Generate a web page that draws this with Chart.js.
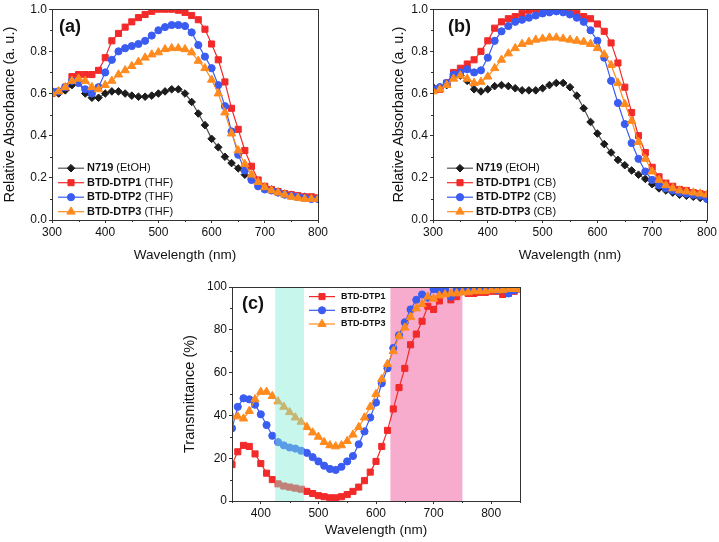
<!DOCTYPE html>
<html lang="en">
<head>
<meta charset="UTF-8">
<title>BTD-DTP absorbance and transmittance</title>
<style>
  body { margin: 0; background: #fff; }
  #wrap { position: relative; width: 719px; height: 542px; }
  canvas { position: absolute; }
</style>
<script src="https://cdn.jsdelivr.net/npm/chart.js"></script>
</head>
<body>
<div id="wrap">
  <canvas id="chartA" width="360" height="270" style="left:0;top:0"></canvas>
  <canvas id="chartB" width="339" height="270" style="left:380px;top:0"></canvas>
  <canvas id="chartC" width="360" height="272" style="left:180px;top:270px"></canvas>
</div>
<script>
// ---- data ----
const wavelengthAB = [300, 312.5, 325, 337.5, 350, 362.5, 375, 387.5, 400, 412.5,
  425, 437.5, 450, 462.5, 475, 487.5, 500, 512.5, 525, 537.5,
  550, 562.5, 575, 587.5, 600, 612.5, 625, 637.5, 650, 662.5,
  675, 687.5, 700, 712.5, 725, 737.5, 750, 762.5, 775, 787.5, 800];

// panel (a)
const n719A = [0.60, 0.60, 0.615, 0.64, 0.655, 0.60, 0.58, 0.58, 0.60, 0.61,
  0.61, 0.60, 0.59, 0.585, 0.585, 0.59, 0.60, 0.61, 0.62, 0.62,
  0.60, 0.56, 0.505, 0.45, 0.385, 0.345, 0.30, 0.27, 0.245, 0.215,
  0.195, 0.175, 0.155, 0.145, 0.135, 0.125, 0.12, 0.115, 0.11, 0.105, 0.10];
const dtp1A = [0.60, 0.61, 0.63, 0.68, 0.69, 0.69, 0.69, 0.71, 0.77, 0.85,
  0.885, 0.915, 0.94, 0.96, 0.975, 0.99, 1.0, 1.0, 1.0, 0.995,
  0.985, 0.97, 0.95, 0.905, 0.835, 0.76, 0.655, 0.53, 0.43, 0.33,
  0.255, 0.19, 0.16, 0.145, 0.135, 0.125, 0.12, 0.115, 0.11, 0.11, 0.105];
const dtp2A = [0.61, 0.61, 0.63, 0.66, 0.65, 0.62, 0.60, 0.63, 0.70, 0.76,
  0.80, 0.815, 0.825, 0.835, 0.85, 0.875, 0.90, 0.915, 0.925, 0.925,
  0.92, 0.89, 0.83, 0.775, 0.72, 0.64, 0.54, 0.42, 0.31, 0.235,
  0.19, 0.16, 0.145, 0.14, 0.13, 0.12, 0.115, 0.11, 0.105, 0.10, 0.10];
const dtp3A = [0.60, 0.61, 0.63, 0.66, 0.67, 0.66, 0.63, 0.62, 0.64, 0.66,
  0.69, 0.71, 0.73, 0.75, 0.77, 0.785, 0.795, 0.81, 0.815, 0.815,
  0.81, 0.795, 0.755, 0.72, 0.665, 0.60, 0.51, 0.41, 0.33, 0.265,
  0.215, 0.18, 0.155, 0.14, 0.13, 0.12, 0.11, 0.105, 0.10, 0.10, 0.10];

// panel (b)
const n719B = [0.63, 0.63, 0.64, 0.68, 0.685, 0.66, 0.62, 0.61, 0.62, 0.635,
  0.64, 0.635, 0.625, 0.615, 0.615, 0.615, 0.625, 0.64, 0.65, 0.65,
  0.63, 0.59, 0.53, 0.465, 0.41, 0.36, 0.32, 0.285, 0.26, 0.235,
  0.215, 0.195, 0.17, 0.15, 0.14, 0.13, 0.12, 0.115, 0.11, 0.105, 0.10];
const dtp1B = [0.62, 0.62, 0.65, 0.70, 0.72, 0.74, 0.76, 0.80, 0.85, 0.91,
  0.94, 0.955, 0.965, 0.98, 0.995, 1.0, 1.0, 1.0, 1.0, 0.995,
  0.99, 0.98, 0.965, 0.955, 0.93, 0.895, 0.84, 0.745, 0.63, 0.51,
  0.40, 0.32, 0.25, 0.205, 0.175, 0.16, 0.145, 0.14, 0.13, 0.125, 0.12];
const dtp2B = [0.62, 0.63, 0.65, 0.69, 0.70, 0.715, 0.70, 0.71, 0.77, 0.85,
  0.895, 0.92, 0.94, 0.95, 0.96, 0.97, 0.98, 0.985, 0.99, 0.985,
  0.975, 0.96, 0.94, 0.90, 0.85, 0.77, 0.66, 0.555, 0.455, 0.365,
  0.29, 0.23, 0.19, 0.165, 0.15, 0.14, 0.13, 0.125, 0.12, 0.115, 0.10];
const dtp3B = [0.61, 0.62, 0.64, 0.67, 0.685, 0.67, 0.65, 0.655, 0.68, 0.72,
  0.76, 0.79, 0.815, 0.835, 0.845, 0.855, 0.86, 0.865, 0.865, 0.86,
  0.855, 0.85, 0.845, 0.835, 0.815, 0.785, 0.735, 0.65, 0.55, 0.47,
  0.37, 0.29, 0.23, 0.19, 0.165, 0.15, 0.14, 0.135, 0.13, 0.125, 0.12];

// panel (c)
const wavelengthC = [350, 360, 370, 380, 390, 400, 410, 420, 430, 440,
  450, 460, 470, 480, 490, 500, 510, 520, 530, 540,
  550, 560, 570, 580, 590, 600, 610, 620, 630, 640,
  650, 660, 670, 680, 690, 700, 710, 720, 730, 740,
  750, 760, 770, 780, 790, 800, 810, 820, 830, 840, 850];
const dtp1C = [17, 23, 26, 25.5, 22, 17.5, 13, 10, 8, 7,
  6.5, 6, 5.5, 4.5, 3.5, 2.5, 2, 1.5, 1.5, 2,
  3, 4.5, 6.5, 9.5, 13.5, 18.5, 25.5, 33, 43, 53,
  62, 73, 78, 84, 91, 89.5, 93.5, 98, 94, 95.5,
  98, 97, 97, 97.5, 97.5, 98, 98, 96.5, 97, 98, 99];
const dtp2C = [34, 44, 48, 47.5, 45, 40.5, 35.5, 30.5, 27.5, 26,
  25, 24.5, 23.5, 22.5, 20.5, 18.5, 16.5, 15, 14.5, 16,
  18.5, 21, 26.5, 32.5, 39, 46, 55, 62, 71.5, 77.5,
  83.5, 89.5, 94, 96.5, 95, 99, 98.5, 99, 95.5, 99,
  98, 99, 98.5, 99, 98.5, 99, 98.5, 99, 97, 98.5, 99.5];
const dtp3C = [39.5, 39.5, 38.5, 42, 47.5, 51, 51, 49, 46.5, 44,
  41.5, 39, 37, 34.5, 32, 30, 27.5, 26, 25.5, 26,
  28, 31, 34.5, 39, 44, 50, 57, 64, 70, 77,
  81, 86, 90, 92, 95.5, 94.5, 96, 96.5, 97, 97,
  97.5, 97.5, 98, 98, 98, 98.5, 98.5, 98.5, 99, 99, 99];

const namesAB = ['N719', 'BTD-DTP1', 'BTD-DTP2', 'BTD-DTP3'];
const solventsA = [' (EtOH)', ' (THF)', ' (THF)', ' (THF)'];
const solventsB = [' (EtOH)', ' (CB)', ' (CB)', ' (CB)'];
const namesC = ['BTD-DTP1', 'BTD-DTP2', 'BTD-DTP3'];
const cyanBand = [425, 475];
const pinkBand = [625, 750];

// ---- styles ----
const FONT = "'Liberation Sans', Arial, sans-serif";
const TXT = '#111';
const styleN719 = { color: '#1c1c1c', line: '#555', pointStyle: 'rectRot', radius: 3.8 };
const styleDtp1 = { color: '#f22a2a', line: '#f22a2a', pointStyle: 'rect', radius: 4.3 };
const styleDtp2 = { color: '#3a5cf0', line: '#3a5cf0', pointStyle: 'circle', radius: 3.6 };
const styleDtp3 = { color: '#ff8a1e', line: '#ff8a1e', pointStyle: 'triangle', radius: 4.8 };

function makeDataset(label, xs, ys, st, order) {
  return {
    label: label,
    data: xs.map((x, i) => ({ x: x, y: ys[i] })),
    borderColor: st.line,
    borderWidth: 1.2,
    backgroundColor: st.color,
    pointBackgroundColor: st.color,
    pointBorderColor: st.color,
    pointBorderWidth: 1,
    pointStyle: st.pointStyle,
    pointRadius: st.radius,
    tension: 0,
    order: order
  };
}

// frame, minor ticks, bands, panel label and in-plot legend
const panelDeco = {
  id: 'panelDeco',
  beforeDatasetsDraw(chart, args, opts) {
    drawBands(chart, opts, false);
  },
  afterDatasetsDraw(chart, args, opts) {
    drawBands(chart, opts, true);
  },
  afterDraw(chart, args, opts) {
    const ctx = chart.ctx;
    const a = chart.chartArea;
    ctx.save();
    ctx.strokeStyle = '#333';
    ctx.lineWidth = 1;
    ctx.strokeRect(Math.round(a.left) + 0.5, Math.round(a.top) + 0.5,
      Math.round(a.right - a.left), Math.round(a.bottom - a.top));

    // minor ticks
    const xs = chart.scales.x, ys = chart.scales.y;
    if (opts.minorX) {
      for (let v = xs.min; v <= xs.max + 1e-9; v += opts.minorX) {
        if (Math.abs(v / opts.majorX - Math.round(v / opts.majorX)) < 1e-6) continue;
        const px = Math.round(xs.getPixelForValue(v)) + 0.5;
        ctx.beginPath(); ctx.moveTo(px, a.bottom); ctx.lineTo(px, a.bottom + 2); ctx.stroke();
      }
    }
    if (opts.minorY) {
      for (let v = ys.min; v <= ys.max + 1e-9; v += opts.minorY) {
        if (Math.abs(v / opts.majorY - Math.round(v / opts.majorY)) < 1e-6) continue;
        const py = Math.round(ys.getPixelForValue(v)) + 0.5;
        ctx.beginPath(); ctx.moveTo(a.left, py); ctx.lineTo(a.left - 2, py); ctx.stroke();
      }
    }

    // panel label
    if (opts.label) {
      ctx.fillStyle = TXT;
      ctx.font = 'bold 18px ' + FONT;
      ctx.textBaseline = 'middle';
      ctx.textAlign = 'left';
      ctx.fillText(opts.label, a.left + opts.labelDx, a.top + opts.labelDy);
    }

    // legend
    const lg = opts.legend;
    if (lg) {
      lg.items.forEach((it, i) => {
        const y = a.top + lg.dy + i * lg.gap;
        const x0 = a.left + lg.dx;
        ctx.strokeStyle = it.st.line;
        ctx.lineWidth = 1.2;
        ctx.beginPath(); ctx.moveTo(x0, y); ctx.lineTo(x0 + lg.len, y); ctx.stroke();
        ctx.fillStyle = it.st.color;
        ctx.strokeStyle = it.st.color;
        ctx.lineWidth = 1;
        Chart.helpers.drawPoint(ctx, { pointStyle: it.st.pointStyle, radius: it.st.radius, rotation: 0, borderWidth: 1 }, x0 + lg.len / 2, y);
        ctx.fillStyle = TXT;
        ctx.textBaseline = 'middle';
        ctx.textAlign = 'left';
        ctx.font = 'bold ' + lg.size + 'px ' + FONT;
        const tx = x0 + lg.len + lg.gapText;
        ctx.fillText(it.bold, tx, y);
        const w = ctx.measureText(it.bold).width;
        if (it.rest) {
          ctx.font = lg.size + 'px ' + FONT;
          ctx.fillText(it.rest, tx + w, y);
        }
      });
    }
    ctx.restore();
  }
};

function drawBands(chart, opts, over) {
  if (!opts.bands) return;
  const ctx = chart.ctx, a = chart.chartArea, xs = chart.scales.x;
  ctx.save();
  opts.bands.filter(b => !!b.over === over).forEach(b => {
    const x1 = xs.getPixelForValue(b.range[0]);
    const x2 = xs.getPixelForValue(b.range[1]);
    ctx.fillStyle = b.color;
    ctx.fillRect(x1, a.top, x2 - x1, a.bottom - a.top);
  });
  ctx.restore();
}

Chart.register(panelDeco);

function axisCfg(c) {
  return {
    x: {
      type: 'linear', min: c.xMin, max: c.xMax,
      afterFit: s => { s.height = c.xHeight; },
      afterBuildTicks: s => { s.ticks = c.xTicks.map(v => ({ value: v })); },
      grid: { drawOnChartArea: false, color: '#333', tickLength: 3 },
      border: { color: '#333' },
      ticks: { color: TXT, font: { family: FONT, size: 12 }, padding: 2, maxRotation: 0 },
      title: { display: true, text: 'Wavelength (nm)', color: TXT, font: { family: FONT, size: 13.5 },
               padding: { top: 0, bottom: c.xTitlePad } }
    },
    y: {
      type: 'linear', min: c.yMin, max: c.yMax,
      afterFit: s => { s.width = c.yWidth; },
      afterBuildTicks: s => { s.ticks = c.yTicks.map(v => ({ value: v })); },
      grid: { drawOnChartArea: false, color: '#333', tickLength: 3 },
      border: { color: '#333' },
      ticks: { color: TXT, font: { family: FONT, size: 12 }, padding: 2,
               callback: v => c.yFmt(v) },
      title: { display: true, text: c.yTitle, color: TXT, font: { family: FONT, size: 14.5 },
               padding: { top: c.yTitlePad, bottom: 0 } }
    }
  };
}

function makeChart(id, datasets, c, deco) {
  return new Chart(document.getElementById(id), {
    type: 'line',
    data: { datasets: datasets },
    options: {
      responsive: false,
      animation: false,
      events: [],
      layout: { padding: c.padding },
      scales: axisCfg(c),
      plugins: { legend: { display: false }, tooltip: { enabled: false }, panelDeco: deco }
    }
  });
}

const absTicksX = [300, 400, 500, 600, 700, 800];
const absTicksY = [0, 0.2, 0.4, 0.6, 0.8, 1.0];

makeChart('chartA', [
  makeDataset(namesAB[0], wavelengthAB, n719A, styleN719, 3),
  makeDataset(namesAB[1], wavelengthAB, dtp1A, styleDtp1, 2),
  makeDataset(namesAB[2], wavelengthAB, dtp2A, styleDtp2, 1),
  makeDataset(namesAB[3], wavelengthAB, dtp3A, styleDtp3, 0)
], {
  xMin: 300, xMax: 800, xTicks: absTicksX, yMin: 0, yMax: 1, yTicks: absTicksY,
  yFmt: v => v.toFixed(1), yTitle: 'Relative Absorbance (a. u.)',
  xHeight: 50, yWidth: 52, xTitlePad: 7, yTitlePad: 1.5,
  padding: { left: 0, right: 42, top: 7, bottom: 0 }
}, {
  label: '(a)', labelDx: 7, labelDy: 18,
  minorX: 50, majorX: 100, minorY: 0.1, majorY: 0.2,
  legend: {
    dx: 6, dy: 159, gap: 14.5, len: 26, gapText: 3, size: 11,
    items: [styleN719, styleDtp1, styleDtp2, styleDtp3].map((st, i) => ({ st: st, bold: namesAB[i], rest: solventsA[i] }))
  }
});

makeChart('chartB', [
  makeDataset(namesAB[0], wavelengthAB, n719B, styleN719, 3),
  makeDataset(namesAB[1], wavelengthAB, dtp1B, styleDtp1, 2),
  makeDataset(namesAB[2], wavelengthAB, dtp2B, styleDtp2, 1),
  makeDataset(namesAB[3], wavelengthAB, dtp3B, styleDtp3, 0)
], {
  xMin: 300, xMax: 800, xTicks: absTicksX, yMin: 0, yMax: 1, yTicks: absTicksY,
  yFmt: v => v.toFixed(1), yTitle: 'Relative Absorbance (a. u.)',
  xHeight: 50, yWidth: 53, xTitlePad: 7, yTitlePad: 10,
  padding: { left: 0, right: 11, top: 7, bottom: 0 }
}, {
  label: '(b)', labelDx: 15, labelDy: 18,
  minorX: 50, majorX: 100, minorY: 0.1, majorY: 0.2,
  legend: {
    dx: 14, dy: 159, gap: 14.5, len: 26, gapText: 3, size: 11,
    items: [styleN719, styleDtp1, styleDtp2, styleDtp3].map((st, i) => ({ st: st, bold: namesAB[i], rest: solventsB[i] }))
  }
});

makeChart('chartC', [
  makeDataset(namesC[0], wavelengthC, dtp1C, styleDtp1, 2),
  makeDataset(namesC[1], wavelengthC, dtp2C, styleDtp2, 1),
  makeDataset(namesC[2], wavelengthC, dtp3C, styleDtp3, 0)
], {
  xMin: 350, xMax: 850, xTicks: [400, 500, 600, 700, 800], yMin: 0, yMax: 100, yTicks: [0, 20, 40, 60, 80, 100],
  yFmt: v => String(v), yTitle: 'Transmittance (%)',
  xHeight: 41, yWidth: 52, xTitlePad: 4, yTitlePad: 1.5,
  padding: { left: 0, right: 20, top: 17, bottom: 0 }
}, {
  label: '(c)', labelDx: 10, labelDy: 17,
  minorX: 50, majorX: 100, minorY: 10, majorY: 20,
  bands: [
    { range: pinkBand, color: '#f7abcd', over: false },
    { range: cyanBand, color: 'rgba(130,235,215,0.45)', over: true }
  ],
  legend: {
    dx: 77, dy: 9.6, gap: 13.7, len: 26, gapText: 6, size: 9,
    items: [styleDtp1, styleDtp2, styleDtp3].map((st, i) => ({ st: st, bold: namesC[i], rest: '' }))
  }
});
</script>
</body>
</html>
